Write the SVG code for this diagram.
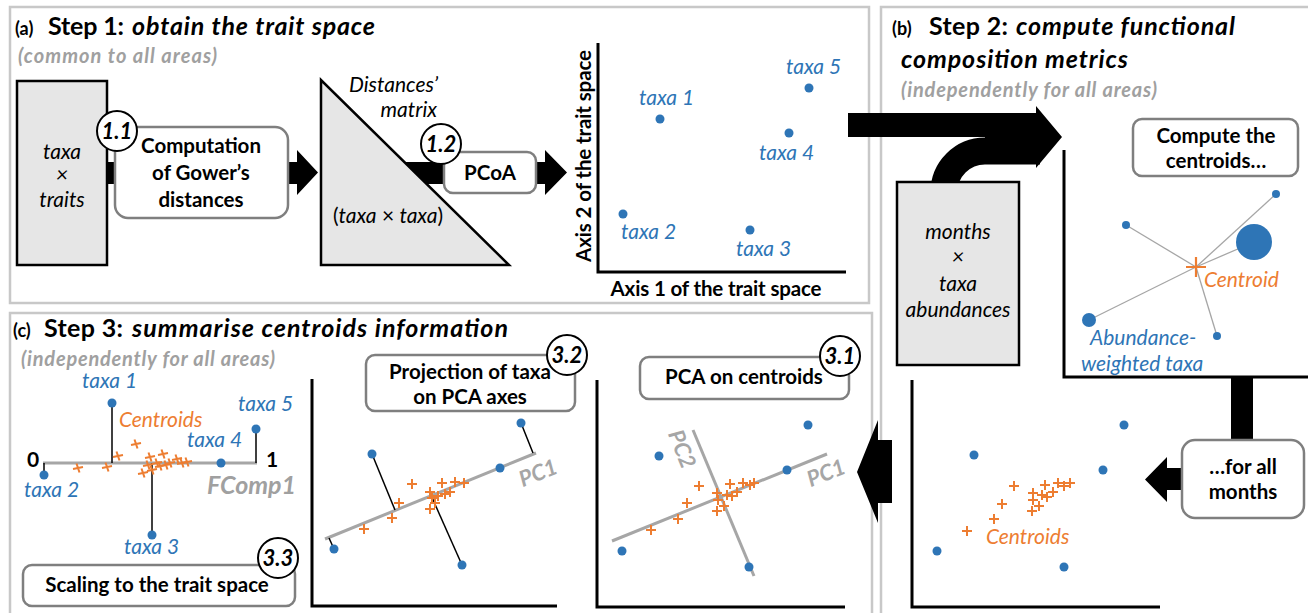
<svg xmlns="http://www.w3.org/2000/svg" xmlns:xlink="http://www.w3.org/1999/xlink" width="1308" height="613" viewBox="0 0 1308 613">
<style>
text{font-family:Lato,"Liberation Sans",sans-serif}
.panel{fill:none;stroke:#c8c8c8;stroke-width:2.5}
.gbox{fill:#e6e6e6;stroke:#000;stroke-width:2.5}
.rbox{fill:#fff;stroke:#7f7f7f;stroke-width:2.5}
.num{fill:#fff;stroke:#000;stroke-width:2}
.numt{font-size:22px;font-weight:bold;font-style:italic;text-anchor:middle}
.axis{stroke:#000;stroke-width:3;fill:none}
.dot{fill:#2e75b6}
.lab{fill:#2e75b6;font-style:italic;font-size:21px}
.orl{fill:#ed7d31;font-style:italic;font-size:21px}
.cr{stroke:#ed7d31;stroke-width:2;fill:none}
.pc{stroke:#a6a6a6;stroke-width:3;fill:none}
.pcl{fill:#a6a6a6;font-style:italic;font-weight:bold;font-size:22px;text-anchor:middle}
.proj{stroke:#000;stroke-width:1.5}
.thin{stroke:#a6a6a6;stroke-width:1.3}
.bt{font-weight:bold;font-size:20.5px;text-anchor:middle}
.it{font-style:italic;font-size:21px;text-anchor:middle}
.sub{fill:#a0a0a0;font-weight:bold;font-style:italic;font-size:20px}
.ttl{font-weight:bold;font-size:25px}
.pl{font-weight:bold;font-size:18px}
</style>
<defs>
<path id="c" d="M-5,0H5M0,-5V5"/>
<path id="cx" d="M-5,1L5,-1M-1.5,-4.5L1.5,4.5"/>
</defs>

<g id="panels">
<rect class="panel" x="10" y="7" width="859" height="296"/>
<rect class="panel" x="881" y="7" width="440" height="620"/>
<rect class="panel" x="10" y="313" width="862" height="310"/>
</g>

<g id="connectors">
<rect x="104" y="162" width="16" height="22" fill="#000"/>
<rect x="380" y="162" width="70" height="22" fill="#000"/>
<polygon points="288,162 297,162 297,150 318,172.5 297,195 297,184 288,184" fill="#000"/>
<polygon points="536,162 545,162 545,150 567,172.5 545,195 545,184 536,184" fill="#000"/>
<polygon points="848,113 1036,113 1036,106 1062,137 1036,168 1036,162 985,162 985,137 848,137" fill="#000"/>
<path d="M944,192 A41,41 0 0 1 985,151 L1040,151" fill="none" stroke="#000" stroke-width="27"/>
<rect x="1231" y="376" width="22" height="66" fill="#000"/>
<polygon points="1184,468 1167,468 1167,457 1145,479.5 1167,502 1167,490 1184,490" fill="#000"/>
<polygon points="892,440 878,440 878,420 857,472 878,523 878,503 892,503" fill="#000"/>
</g>

<g id="titleA">
<text class="pl" x="15" y="35">(a)</text>
<text class="ttl" x="48" y="35" textLength="76">Step 1:</text>
<text class="ttl" x="132" y="35" font-style="italic" textLength="243">obtain the trait space</text>
<text class="sub" x="18" y="63" textLength="199">(common to all areas)</text>
</g>

<g id="taxaTraits">
<rect class="gbox" x="17" y="81" width="90" height="184"/>
<text class="it" x="62" y="159">taxa</text>
<text class="it" x="62" y="182" font-style="normal">×</text>
<text class="it" x="62" y="207">traits</text>
</g>

<g id="gower">
<rect class="rbox" x="115" y="127" width="173" height="91" rx="13"/>
<text class="bt" x="201" y="153">Computation</text>
<text class="bt" x="201" y="180">of Gower’s</text>
<text class="bt" x="201" y="207">distances</text>
<circle class="num" cx="117" cy="131" r="20"/>
<text class="numt" x="117" y="139">1.1</text>
</g>

<g id="distMatrix">
<polygon class="gbox" points="321,80 321,265 509,265"/>
<text x="438" y="92" font-style="italic" font-size="21" text-anchor="end">Distances’</text>
<text x="437" y="117" font-style="italic" font-size="21" text-anchor="end">matrix</text>
<text x="333" y="223" font-size="21" textLength="110">(<tspan font-style="italic">taxa</tspan> × <tspan font-style="italic">taxa</tspan>)</text>
</g>

<g id="pcoa">
<rect class="rbox" x="444" y="152" width="92" height="41" rx="9"/>
<text class="bt" x="490" y="180">PCoA</text>
<circle class="num" cx="441" cy="144" r="20"/>
<text class="numt" x="441" y="152">1.2</text>
</g>

<g id="traitSpace">
<path class="axis" d="M598,43 V272 H846"/>
<text x="0" y="0" font-weight="bold" font-size="20.5" text-anchor="middle" textLength="212" transform="translate(591,156) rotate(-90)">Axis 2 of the trait space</text>
<text x="716" y="296" font-weight="bold" font-size="20.5" text-anchor="middle" textLength="211">Axis 1 of the trait space</text>
<circle class="dot" cx="809" cy="88" r="4.5"/>
<circle class="dot" cx="660" cy="119" r="4.5"/>
<circle class="dot" cx="789" cy="133" r="4.5"/>
<circle class="dot" cx="623" cy="214" r="4.5"/>
<circle class="dot" cx="750" cy="230" r="4.5"/>
<text class="lab" x="786" y="74">taxa 5</text>
<text class="lab" x="639" y="105">taxa 1</text>
<text class="lab" x="759" y="160">taxa 4</text>
<text class="lab" x="621" y="239">taxa 2</text>
<text class="lab" x="736" y="256">taxa 3</text>
</g>

<g id="titleB">
<text class="pl" x="892" y="35">(b)</text>
<text class="ttl" x="929" y="35" textLength="79">Step 2:</text>
<text class="ttl" x="1016" y="35" font-style="italic" textLength="219">compute functional</text>
<text class="ttl" x="901" y="68" font-style="italic" textLength="227">composition metrics</text>
<text class="sub" x="901" y="97" textLength="256">(independently for all areas)</text>
</g>

<g id="monthsTaxa">
<rect class="gbox" x="897" y="182" width="122" height="183"/>
<text class="it" x="958" y="239">months</text>
<text class="it" x="958" y="264" font-style="normal">×</text>
<text class="it" x="958" y="291">taxa</text>
<text class="it" x="958" y="317">abundances</text>
</g>

<g id="computeCentroids">
<rect class="rbox" x="1133" y="119" width="165" height="57" rx="9"/>
<text class="bt" x="1216" y="143">Compute the</text>
<text class="bt" x="1216" y="168">centroids…</text>
</g>

<g id="centroidPlot">
<path class="axis" d="M1064,150 V377 H1312"/>
<line class="thin" x1="1196" y1="267" x2="1276" y2="194"/>
<line class="thin" x1="1196" y1="267" x2="1126" y2="225"/>
<line class="thin" x1="1196" y1="267" x2="1254" y2="242"/>
<line class="thin" x1="1196" y1="267" x2="1089" y2="320"/>
<line class="thin" x1="1196" y1="267" x2="1217" y2="336"/>
<circle class="dot" cx="1276" cy="194" r="4"/>
<circle class="dot" cx="1126" cy="225" r="4"/>
<circle class="dot" cx="1254" cy="242" r="18"/>
<circle class="dot" cx="1089" cy="320" r="7"/>
<circle class="dot" cx="1217" cy="336" r="4"/>
<path d="M1186,267H1206M1196,257V277" stroke="#ed7d31" stroke-width="2.2"/>
<text class="orl" x="1204" y="287">Centroid</text>
<text class="lab" x="1090" y="345">Abundance-</text>
<text class="lab" x="1081" y="371">weighted taxa</text>
</g>

<g id="forAllMonths">
<rect class="rbox" x="1182" y="440" width="122" height="78" rx="13"/>
<text class="bt" x="1243" y="474">…for all</text>
<text class="bt" x="1243" y="499">months</text>
</g>

<g id="allCentroidsPlot">
<path class="axis" d="M912,380 V607 H1160"/>
<circle class="dot" cx="1124" cy="425" r="4.5"/>
<circle class="dot" cx="974" cy="455" r="4.5"/>
<circle class="dot" cx="1103" cy="470" r="4.5"/>
<circle class="dot" cx="937" cy="551" r="4.5"/>
<circle class="dot" cx="1064" cy="567" r="4.5"/>
<g class="cr">
<use href="#c" x="1014" y="486"/><use href="#c" x="1045" y="485"/><use href="#c" x="1058" y="483"/><use href="#c" x="1064" y="486"/><use href="#c" x="1070" y="483"/>
<use href="#c" x="1033" y="493"/><use href="#c" x="1042" y="495"/><use href="#c" x="1047" y="497"/><use href="#c" x="1053" y="492"/><use href="#c" x="1033" y="500"/>
<use href="#c" x="1039" y="506"/><use href="#c" x="1032" y="511"/><use href="#c" x="1002" y="504"/><use href="#c" x="994" y="519"/><use href="#c" x="967" y="531"/>
</g>
<text class="orl" x="986" y="544">Centroids</text>
</g>

<g id="titleC">
<text class="pl" x="13" y="337">(c)</text>
<text class="ttl" x="44" y="337" textLength="79">Step 3:</text>
<text class="ttl" x="132" y="337" font-style="italic" textLength="376">summarise centroids information</text>
<text class="sub" x="21" y="366" textLength="254">(independently for all areas)</text>
</g>

<g id="fcomp">
<line x1="43" y1="463" x2="257" y2="463" stroke="#a6a6a6" stroke-width="3"/>
<line class="proj" x1="112" y1="403" x2="112" y2="463"/>
<line class="proj" x1="256" y1="429" x2="256" y2="463"/>
<line class="proj" x1="44" y1="463" x2="44" y2="475"/>
<line class="proj" x1="152" y1="463" x2="152" y2="535"/>
<circle class="dot" cx="112" cy="403" r="4.5"/>
<circle class="dot" cx="256" cy="429" r="4.5"/>
<circle class="dot" cx="221" cy="463" r="4.5"/>
<circle class="dot" cx="44" cy="475" r="4.5"/>
<circle class="dot" cx="152" cy="535" r="4.5"/>
<g class="cr">
<use href="#cx" x="78" y="468"/><use href="#cx" x="107" y="467"/><use href="#cx" x="118" y="456"/><use href="#cx" x="136" y="444"/><use href="#cx" x="150" y="457"/>
<use href="#cx" x="163" y="454"/><use href="#cx" x="148" y="465"/><use href="#cx" x="157" y="463"/><use href="#cx" x="160" y="466"/><use href="#cx" x="166" y="465"/>
<use href="#cx" x="170" y="463"/><use href="#cx" x="177" y="459"/><use href="#cx" x="182" y="463"/><use href="#cx" x="187" y="462"/><use href="#cx" x="143" y="473"/><use href="#cx" x="152" y="470"/>
</g>
<text x="27" y="467" font-weight="bold" font-size="21">0</text>
<text x="266" y="467" font-weight="bold" font-size="21">1</text>
<text class="lab" x="82" y="388">taxa 1</text>
<text class="lab" x="238" y="411">taxa 5</text>
<text class="lab" x="187" y="447">taxa 4</text>
<text class="lab" x="24" y="497">taxa 2</text>
<text class="lab" x="124" y="554">taxa 3</text>
<text class="orl" x="119" y="427">Centroids</text>
<text x="207" y="494" fill="#a0a0a0" font-weight="bold" font-style="italic" font-size="25">FComp1</text>
</g>

<g id="scaling">
<rect class="rbox" x="23" y="565" width="272" height="41" rx="9"/>
<text class="bt" x="157" y="592">Scaling to the trait space</text>
<circle class="num" cx="278" cy="558" r="20"/>
<text class="numt" x="278" y="566">3.3</text>
</g>

<g id="projectionPlot">
<path class="axis" d="M312,379 V606 H557"/>
<line class="pc" x1="325" y1="539" x2="536" y2="453"/>
<line class="proj" x1="521" y1="423" x2="533" y2="453"/>
<line class="proj" x1="372" y1="454" x2="395" y2="510"/>
<line class="proj" x1="334" y1="549" x2="329" y2="538"/>
<line class="proj" x1="462" y1="565" x2="430" y2="493"/>
<circle class="dot" cx="521" cy="423" r="4.5"/>
<circle class="dot" cx="372" cy="454" r="4.5"/>
<circle class="dot" cx="500" cy="468" r="4.5"/>
<circle class="dot" cx="334" cy="549" r="4.5"/>
<circle class="dot" cx="462" cy="565" r="4.5"/>
<g class="cr">
<use href="#c" x="412" y="484"/><use href="#c" x="442" y="483"/><use href="#c" x="455" y="482"/><use href="#c" x="464" y="483"/><use href="#c" x="399" y="503"/>
<use href="#c" x="392" y="518"/><use href="#c" x="364" y="529"/><use href="#c" x="430" y="492"/><use href="#c" x="435" y="503"/><use href="#c" x="430" y="509"/>
<use href="#c" x="438" y="496"/><use href="#c" x="445" y="494"/><use href="#c" x="450" y="492"/><use href="#c" x="432" y="498"/>
</g>
<text class="pcl" transform="translate(541,480) rotate(-22)">PC1</text>
</g>

<g id="projectionBox">
<rect class="rbox" x="366" y="355" width="209" height="56" rx="9"/>
<text class="bt" x="470" y="379">Projection of taxa</text>
<text class="bt" x="470" y="404">on PCA axes</text>
<circle class="num" cx="567" cy="355" r="20"/>
<text class="numt" x="567" y="363">3.2</text>
</g>

<g id="pcaPlot">
<path class="axis" d="M597,380 V607 H845"/>
<line class="pc" x1="612" y1="541" x2="827" y2="454"/>
<line class="pc" x1="693" y1="430" x2="754" y2="576"/>
<circle class="dot" cx="808" cy="425" r="4.5"/>
<circle class="dot" cx="659" cy="456" r="4.5"/>
<circle class="dot" cx="787" cy="470" r="4.5"/>
<circle class="dot" cx="622" cy="551" r="4.5"/>
<circle class="dot" cx="749" cy="567" r="4.5"/>
<g class="cr">
<use href="#c" x="699" y="486"/><use href="#c" x="730" y="484"/><use href="#c" x="743" y="483"/><use href="#c" x="750" y="485"/><use href="#c" x="754" y="483"/>
<use href="#c" x="717" y="493"/><use href="#c" x="727" y="495"/><use href="#c" x="732" y="496"/><use href="#c" x="737" y="492"/><use href="#c" x="718" y="500"/>
<use href="#c" x="724" y="506"/><use href="#c" x="717" y="511"/><use href="#c" x="687" y="503"/><use href="#c" x="678" y="519"/><use href="#c" x="651" y="530"/>
</g>
<text class="pcl" transform="translate(829,480) rotate(-22)">PC1</text>
<text class="pcl" transform="translate(675,452) rotate(68)">PC2</text>
</g>

<g id="pcaBox">
<rect class="rbox" x="640" y="357" width="209" height="42" rx="9"/>
<text class="bt" x="744" y="384">PCA on centroids</text>
<circle class="num" cx="840" cy="356" r="20"/>
<text class="numt" x="840" y="364">3.1</text>
</g>
</svg>
